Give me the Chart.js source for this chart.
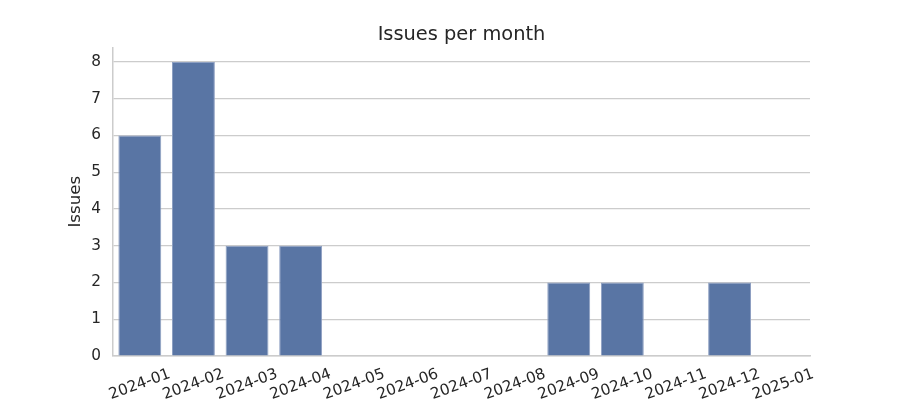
<!DOCTYPE html>
<html>
<head>
<meta charset="utf-8">
<script src="https://cdn.jsdelivr.net/npm/chart.js@4"></script>
<style>
  html, body { margin: 0; padding: 0; background: #fff; }
  #wrap { width: 900px; height: 400px; }
</style>
</head>
<body>
<div id="wrap"><canvas id="issuesChart"></canvas></div>
<script>
const months = ['2024-01', '2024-02', '2024-03', '2024-04', '2024-05', '2024-06', '2024-07',
                '2024-08', '2024-09', '2024-10', '2024-11', '2024-12', '2025-01'];
const issueCounts = [6, 8, 3, 3, 0, 0, 0, 0, 2, 2, 0, 2, 0];
const yTicks = [0, 1, 2, 3, 4, 5, 6, 7, 8];

const fontFamily = "'DejaVu Sans', sans-serif";
const textColor = '#262626';

const ctx = document.getElementById('issuesChart').getContext('2d');
new Chart(ctx, {
    type: 'bar',
    data: {
        labels: months,
        datasets: [{
            label: 'Issues',
            data: issueCounts,
            backgroundColor: '#5975a4',
            borderColor: '#8ea0c2',
            borderWidth: 1,
            categoryPercentage: 1.0,
            barPercentage: 0.8
        }]
    },
    options: {
        responsive: true,
        maintainAspectRatio: false,
        animation: false,
        layout: { padding: { left: 0, right: 90, top: 0, bottom: 0 } },
        plugins: {
            legend: { display: false },
            tooltip: { enabled: false },
            title: {
                display: true,
                fullSize: false,
                text: 'Issues per month',
                color: textColor,
                font: { family: fontFamily, size: 19.4, weight: 'normal' },
                padding: { top: 23, bottom: 1 }
            }
        },
        scales: {
            x: {
                afterFit: axis => { axis.height = 44; },
                grid: { display: false, drawTicks: false },
                border: { display: true, color: '#cccccc', width: 1.5 },
                ticks: {
                    color: textColor,
                    font: { family: fontFamily, size: 15.3 },
                    minRotation: 20,
                    maxRotation: 20,
                    autoSkip: false,
                    padding: 9,
                    labelOffset: 30
                }
            },
            y: {
                min: 0,
                max: 8.4,
                afterFit: axis => { axis.width = 113; },
                afterBuildTicks: axis => { axis.ticks = yTicks.map(v => ({ value: v })); },
                grid: { color: '#cccccc', lineWidth: 1.2, drawTicks: false },
                border: { display: true, color: '#cccccc', width: 1.5 },
                title: {
                    display: true,
                    text: 'Issues',
                    color: textColor,
                    font: { family: fontFamily, size: 16.7 },
                    padding: { top: 66, bottom: 0 }
                },
                ticks: {
                    color: textColor,
                    font: { family: fontFamily, size: 15.3 },
                    padding: 12
                }
            }
        }
    }
});
</script>
</body>
</html>
